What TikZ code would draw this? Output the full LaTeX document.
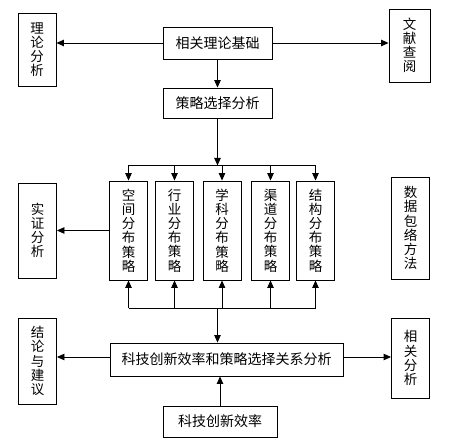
\documentclass[tikz,border=0pt]{standalone}
\usepackage{fontspec}
\newfontfamily\cjk{Noto Sans CJK SC}
\XeTeXlinebreaklocale "zh"
\XeTeXlinebreakskip=0pt plus 1pt
\usetikzlibrary{arrows.meta,positioning,calc}

\begin{document}
\begin{tikzpicture}[
        x=1pt,y=-1pt,
        box/.style={draw,line width=0.9pt,inner sep=0pt,font=\cjk\fontsize{14}{15}\selectfont},
        vbox/.style={box,align=center,text width=14pt,minimum width=38pt,font=\cjk\fontsize{13.5}{14.2}\selectfont},
        arrow/.style={line width=0.9pt,-{Triangle[length=7.5pt,width=6.5pt]}},
        bus/.style={line width=0.9pt},
    ]
    \useasboundingbox (0,0) rectangle (449,446);

    % top row
    \node[vbox,minimum height=73pt] (lilun) at (37,49.5) {理论分析};
    \node[box,minimum width=109pt,minimum height=32pt] (jichu) at (217.5,43) {相关理论基础};
    \node[vbox,minimum width=41pt,minimum height=73pt] (wenxian) at (409.5,45.5) {文献查阅};
    \node[box,minimum width=109pt,minimum height=30pt] (celue) at (217.5,103) {策略选择分析};

    % strategy boxes
    \node[vbox,minimum height=95pt] (shizheng) at (37.5,230.5) {实证分析};
    \node[vbox,minimum height=99pt] (kongjian) at (128.5,230.5) {空间分布策略};
    \node[vbox,minimum height=99pt] (hangye)   at (174.5,230.5) {行业分布策略};
    \node[vbox,minimum height=99pt] (xueke)    at (222,230.5)   {学科分布策略};
    \node[vbox,minimum height=99pt] (qudao)    at (270.5,230.5) {渠道分布策略};
    \node[vbox,minimum height=99pt] (jiegou)   at (315.5,230.5) {结构分布策略};
    \node[vbox,minimum height=102pt] (shuju) at (410.5,228) {数据包络方法};

    % bottom row
    \node[box,minimum width=233pt,minimum height=33pt] (guanxi) at (226.5,359.5) {科技创新效率和策略选择关系分析};
    \node[vbox,minimum height=86pt] (jielun) at (37.5,361) {结论与建议};
    \node[vbox,minimum height=80pt] (xiangguan) at (410.5,358) {相关分析};
    \node[box,minimum width=114pt,minimum height=31pt] (xiaolv) at (220,421.5) {科技创新效率};

    \coordinate (topbus) at ($(celue.south)+(0,47)$);
    \coordinate (lowbus) at (0,308);

    \draw[arrow] (jichu.west) -- (jichu.west -| lilun.east);
    \draw[arrow] (jichu.east) -- (jichu.east -| wenxian.west);
    \draw[arrow] (jichu.south) -- (celue.north);
    \draw[arrow] (celue.south) -- (topbus);
    \draw[bus] (kongjian.north |- topbus) -- (jiegou.north |- topbus);
    \draw[bus] (kongjian.south |- lowbus) -- (jiegou.south |- lowbus);
    \foreach \s in {kongjian,hangye,xueke,qudao,jiegou}{
        \draw[arrow] (\s.north |- topbus) -- (\s.north);
        \draw[arrow] (\s.south |- lowbus) -- (\s.south);
    }
    \draw[arrow] (kongjian.west) -- (kongjian.west -| shizheng.east);
    \draw[arrow] (celue.south |- lowbus) -- (celue.south |- guanxi.north);
    \draw[arrow] (guanxi.west |- 0,357) -- (jielun.east |- 0,357);
    \draw[arrow] (guanxi.east |- 0,357) -- (xiangguan.west |- 0,357);
    \draw[arrow] (xiaolv.north) -- (xiaolv.north |- guanxi.south);
\end{tikzpicture}
\end{document}
